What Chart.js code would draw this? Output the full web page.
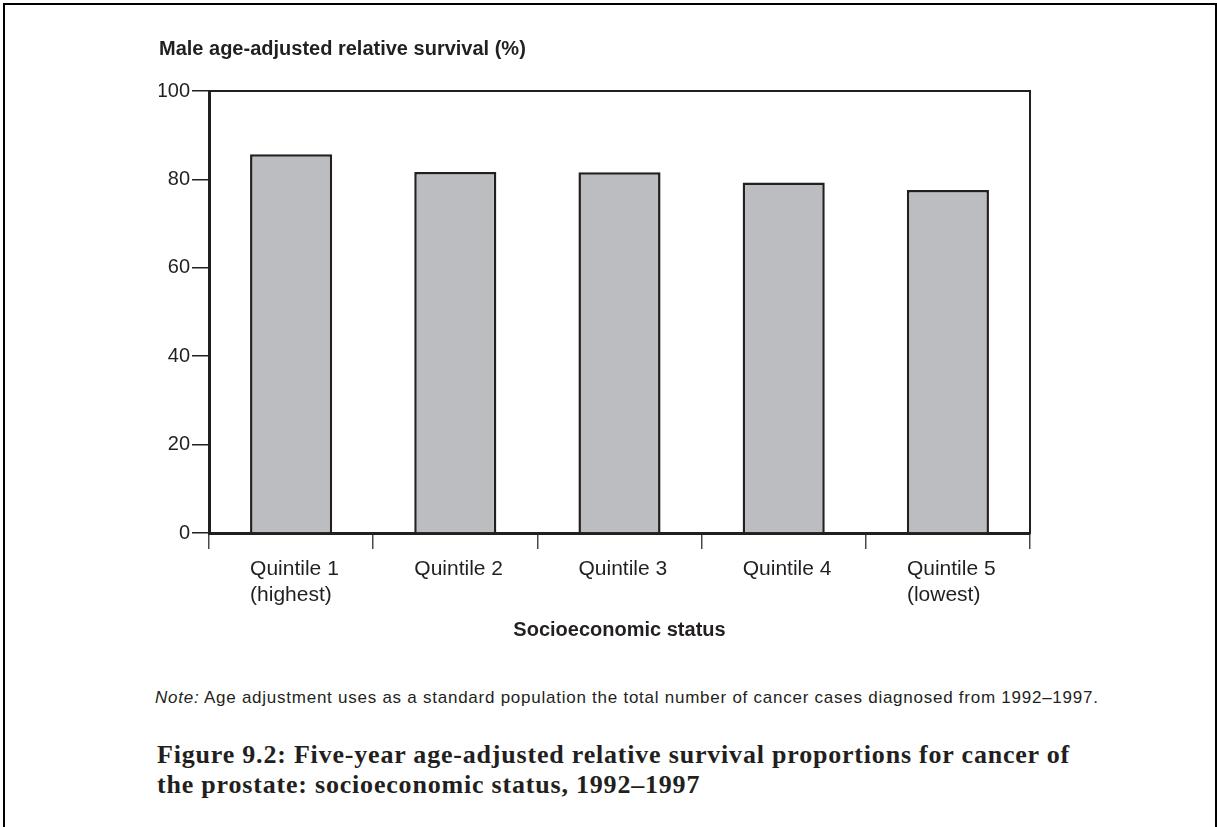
<!DOCTYPE html>
<html>
<head>
<meta charset="utf-8">
<script src="https://cdn.jsdelivr.net/npm/chart.js@4/dist/chart.umd.min.js"></script>
<style>
  html, body { margin: 0; padding: 0; background: #fff; overflow: hidden; }
  body { width: 1217px; height: 827px; position: relative; }
  .frame {
    position: absolute; left: 3px; top: 3px; width: 1214px; height: 900px;
    box-sizing: border-box; border: 2px solid #000;
  }
  .chart-box { position: absolute; left: 0; top: 0; width: 1217px; height: 660px; }
  .note {
    position: absolute; left: 155px; top: 688px;
    font: 17px/20px "Liberation Sans", Arial, sans-serif; color: #231f20;
    letter-spacing: 0.75px; white-space: nowrap;
  }
  .caption {
    position: absolute; left: 157px; top: 740px;
    font: bold 26px/30px "Liberation Serif", "Times New Roman", serif; color: #231f20;
    letter-spacing: 0.8px; white-space: nowrap;
  }
</style>
</head>
<body>
<div class="frame"></div>
<div class="chart-box"><canvas id="survivalChart"></canvas></div>
<div class="note"><i>Note:</i> Age adjustment uses as a standard population the total number of cancer cases diagnosed from 1992–1997.</div>
<div class="caption">Figure 9.2: Five-year age-adjusted relative survival proportions for cancer of<br>the prostate: socioeconomic status, 1992–1997</div>

<script>
// chart data
const quintileLabels = [
  ['Quintile 1', '(highest)'],
  ['Quintile 2'],
  ['Quintile 3'],
  ['Quintile 4'],
  ['Quintile 5', '(lowest)']
];
const survivalValues = [85.7, 81.7, 81.6, 79.3, 77.6];
const yTicks = [0, 20, 40, 60, 80, 100];

const INK = '#231f20';
const BAR_FILL = '#bcbdc0';

Chart.defaults.font.family = '"Liberation Sans", Arial, sans-serif';
Chart.defaults.color = INK;

const ctx = document.getElementById('survivalChart').getContext('2d');
new Chart(ctx, {
  type: 'bar',
  data: {
    labels: quintileLabels,
    datasets: [
      {
        label: 'Male age-adjusted relative survival (%)',
        data: survivalValues,
        backgroundColor: BAR_FILL,
        borderColor: INK,
        borderWidth: 2.5,
        barPercentage: 0.5,
        categoryPercentage: 1.0,
      },
    ],
  },
  options: {
    responsive: true,
    maintainAspectRatio: false,
    animation: false,
    layout: {
      padding: { left: 159, right: 187, top: 0, bottom: 18 },
    },
    scales: {
      x: {
        position: 'bottom',
        z: 1,
        offset: true,
        grid: {
          offset: true,
          drawOnChartArea: false,
          drawTicks: true,
          tickLength: 16,
          color: '#4a4a4a',
          lineWidth: 1.5,
        },
        border: { display: true, color: INK, width: 3 },
        ticks: {
          autoSkip: false,
          maxRotation: 0,
          minRotation: 0,
          align: 'start',
          labelOffset: -41,
          padding: 7,
          color: INK,
          font: { size: 21, lineHeight: 1.24 },
        },
        title: {
          display: true,
          text: 'Socioeconomic status',
          color: INK,
          font: { size: 20, weight: 'bold', lineHeight: 1.2 },
          padding: 0,
        },
        afterFit: (scale) => { scale.height = 109; },
      },
      y: {
        position: 'left',
        z: 1,
        min: 0,
        max: 100,
        afterBuildTicks: (scale) => { scale.ticks = yTicks.map(v => ({ value: v })); },
        grid: {
          drawOnChartArea: false,
          drawTicks: true,
          tickLength: 17,
          color: INK,
          lineWidth: 1.5,
        },
        border: { display: true, color: INK, width: 3 },
        ticks: {
          padding: 2,
          color: INK,
          font: { size: 20 },
        },
        afterFit: (scale) => { scale.width = 50; },
      },
      xTop: {
        type: 'category',
        position: 'top',
        z: 1,
        offset: true,
        grid: { drawOnChartArea: false, drawTicks: false },
        border: { display: true, color: INK, width: 2 },
        ticks: { display: false },
        afterFit: (scale) => { scale.height = 0; },
      },
      yRight: {
        type: 'linear',
        position: 'right',
        z: 1,
        min: 0,
        max: 100,
        grid: { drawOnChartArea: false, drawTicks: false },
        border: { display: true, color: INK, width: 2 },
        ticks: { display: false },
        afterFit: (scale) => { scale.width = 0; },
      },
    },
    plugins: {
      legend: { display: false },
      tooltip: { enabled: false },
      title: {
        display: true,
        text: 'Male age-adjusted relative survival (%)',
        align: 'start',
        color: INK,
        font: { size: 20, weight: 'bold', lineHeight: 1.2 },
        padding: { top: 37.8, bottom: 29.2 },
      },
    },
  },
});
</script>
</body>
</html>
